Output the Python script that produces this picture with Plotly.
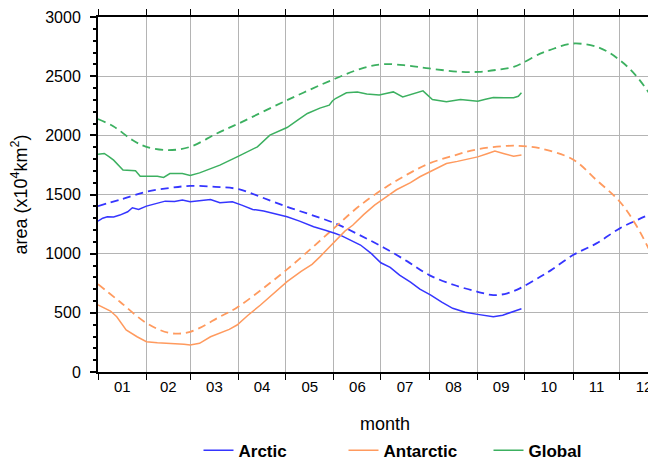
import plotly.graph_objects as go

# ---------------- data (day of year, area x10^4 km^2) ----------------
arctic_days = [0, 3, 6, 10, 14, 19, 22, 26, 31, 37, 43, 49, 54, 59, 65, 72, 78, 86, 92, 99,
               106, 113, 121, 129, 138, 145, 149, 152, 156, 162, 168, 175, 181, 187, 193, 200,
               206, 213, 220, 227, 235, 243, 248, 253, 259, 266, 271]
arctic_vals = [1275, 1300, 1312, 1310, 1326, 1354, 1388, 1374, 1402, 1420, 1444, 1440, 1453, 1438,
               1450, 1458, 1430, 1438, 1410, 1374, 1360, 1340, 1312, 1275, 1227, 1200, 1185, 1171,
               1150, 1110, 1073, 1000, 923, 884, 819, 760, 700, 650, 590, 538, 505, 487, 475, 467,
               480, 510, 535]

antarctic_days = [0, 1, 4, 8, 12, 18, 25, 31, 38, 48, 55, 59, 65, 72, 78, 84, 89, 96, 104, 112,
                  121, 130, 137, 142, 147, 152, 158, 163, 170, 177, 182, 187, 191, 195, 200, 206,
                  212, 218, 223, 230, 237, 243, 249, 254, 260, 266, 271]
antarctic_vals = [566, 560, 545, 515, 467, 355, 298, 256, 248, 242, 235, 228, 242, 298, 327, 360,
                  397, 480, 566, 660, 763, 850, 910, 973, 1040, 1115, 1190, 1240, 1330, 1410, 1460,
                  1503, 1540, 1565, 1600, 1650, 1692, 1730, 1762, 1780, 1800, 1818, 1845, 1867,
                  1845, 1824, 1833]

global_days = [0, 4, 7, 10, 16, 24, 27, 33, 38, 42, 46, 54, 59, 65, 74, 78, 90, 102, 110, 121,
               128, 134, 142, 148, 150, 152, 159, 166, 172, 180, 185, 189, 195, 201, 208, 214,
               219, 223, 232, 237, 243, 248, 253, 260, 266, 269, 271]
global_vals = [1841, 1847, 1820, 1790, 1706, 1700, 1655, 1658, 1655, 1644, 1677, 1677, 1661, 1683,
               1729, 1748, 1824, 1903, 2002, 2066, 2130, 2185, 2230, 2255, 2290, 2311, 2359, 2367,
               2350, 2340, 2355, 2367, 2325, 2350, 2376, 2303, 2290, 2283, 2303, 2295, 2289, 2305,
               2320, 2318, 2317, 2330, 2359]

arctic_clim_days = [0, 15, 31, 46, 59, 75, 90, 105, 121, 136, 152, 167, 183, 198, 212, 228, 243,
                    253, 262, 270, 283, 290, 304, 319, 334, 346, 357]
arctic_clim_vals = [1402, 1460, 1523, 1555, 1573, 1565, 1545, 1475, 1396, 1330, 1255, 1160, 1050,
                    935, 819, 735, 678, 650, 665, 707, 805, 861, 988, 1087, 1214, 1290, 1354]

antarctic_clim_days = [0, 14, 31, 46, 59, 78, 89, 105, 121, 137, 152, 167, 184, 198, 212, 228,
                       242, 262, 272, 283, 304, 319, 334, 345, 357]
antarctic_clim_vals = [743, 594, 414, 329, 340, 467, 545, 700, 867, 1050, 1227, 1400, 1560, 1670,
                       1762, 1830, 1880, 1911, 1909, 1890, 1796, 1622, 1439, 1227, 918]

global_clim_days = [0, 10, 22, 31, 45, 59, 76, 90, 121, 152, 170, 183, 198, 212, 232, 244, 256,
                    266, 272, 283, 289, 304, 321, 334, 345, 357]
global_clim_vals = [2137, 2075, 1960, 1903, 1875, 1903, 2016, 2100, 2297, 2480, 2570, 2601, 2590,
                    2565, 2537, 2537, 2555, 2579, 2613, 2690, 2720, 2776, 2739, 2635, 2494, 2272]

month_starts = [0, 31, 59, 90, 120, 151, 181, 212, 243, 273, 304, 334]
month_mids = [15.5, 45, 74.5, 105, 135.5, 166, 196.5, 227.5, 258, 288.5, 319, 349.5]
month_labels = ["01", "02", "03", "04", "05", "06", "07", "08", "09", "10", "11", "12"]

C_ARC = "#3535ff"
C_ANT = "#ff9a5e"
C_GLO = "#3cb060"
FONT = "Liberation Sans, Arial, Helvetica, sans-serif"

fig = go.Figure()

for d, v, c, nm in [(arctic_clim_days, arctic_clim_vals, C_ARC, "Arctic clim"),
                    (antarctic_clim_days, antarctic_clim_vals, C_ANT, "Antarctic clim"),
                    (global_clim_days, global_clim_vals, C_GLO, "Global clim")]:
    fig.add_trace(go.Scatter(x=d, y=v, mode="lines", showlegend=False, name=nm,
                             line=dict(color=c, width=1.8, dash="8px,5px", shape="spline",
                                       smoothing=1.0)))

for d, v, c, nm in [(arctic_days, arctic_vals, C_ARC, "<b>Arctic</b>"),
                    (antarctic_days, antarctic_vals, C_ANT, "<b>Antarctic</b>"),
                    (global_days, global_vals, C_GLO, "<b>Global</b>")]:
    fig.add_trace(go.Scatter(x=d, y=v, mode="lines", name=nm,
                             line=dict(color=c, width=1.5)))

# page body has an 8px margin; the plot frame runs past the window's right edge as in the source
W = 676
PLOT_W = W - 90
X_MAX = PLOT_W / 1.5625          # 1.5625 px per day
px = lambda sx: (sx - 98) / PLOT_W   # screen x -> paper x

fig.update_layout(
    width=W, height=451,
    margin=dict(l=90, r=0, t=8.5, b=87, autoexpand=False),
    paper_bgcolor="white", plot_bgcolor="white",
    font=dict(family=FONT, color="black", size=16),
    showlegend=True,
    legend=dict(orientation="h", x=px(416), xanchor="center", y=-0.222, yanchor="middle",
                entrywidth=100, entrywidthmode="pixels",
                font=dict(family=FONT, size=17, color="black"), bgcolor="rgba(0,0,0,0)"),
    xaxis=dict(range=[0, X_MAX], tickmode="array", tickvals=month_mids, ticktext=month_labels,
               ticks="", showgrid=False, zeroline=False, automargin=False,
               showline=True, linecolor="black", linewidth=2, mirror="ticks",
               tickfont=dict(size=15), ticklabelstandoff=0,
               minor=dict(tickmode="array", tickvals=month_starts, ticks="outside", ticklen=6,
                          tickcolor="black", tickwidth=1, showgrid=True,
                          gridcolor="#b4b4b4", gridwidth=1)),
    yaxis=dict(range=[0, 3000], tickmode="array", tickvals=[0, 500, 1000, 1500, 2000, 2500, 3000],
               ticks="outside", ticklen=6, tickwidth=1.5, tickcolor="black",
               showgrid=True, gridcolor="#b4b4b4", gridwidth=1, zeroline=False, automargin=False,
               showline=True, linecolor="black", linewidth=2,
               tickfont=dict(size=16), ticklabelstandoff=6,
               title=dict(text="area (x10<sup>4</sup>km<sup>2</sup>)", font=dict(size=18), standoff=14),
               minor=dict(dtick=100, ticks="outside", ticklen=3, tickcolor="black", showgrid=False)),
    annotations=[dict(text="month", xref="paper", yref="paper", x=px(385), y=-0.146,
                      xanchor="center", yanchor="middle", showarrow=False,
                      font=dict(family=FONT, size=18, color="black"))],
)

fig.write_html("out.html")
